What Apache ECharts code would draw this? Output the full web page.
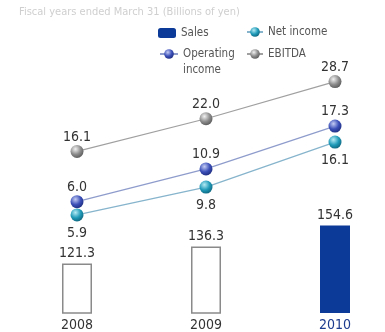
<!DOCTYPE html>
<html>
<head>
<meta charset="utf-8">
<script src="https://cdn.jsdelivr.net/npm/echarts@6/dist/echarts.min.js"></script>
<style>
  html, body { margin: 0; padding: 0; background: #fff; }
  #chart { width: 385px; height: 332px; }
</style>
</head>
<body>
<div id="chart"></div>
<script>
// Fiscal years and results (billions of yen)
const years = ['2008', '2009', '2010'];
const sales = [121.3, 136.3, 154.6];
const operatingIncome = [6.0, 10.9, 17.3];
const netIncome = [5.9, 9.8, 16.1];
const ebitda = [16.1, 22.0, 28.7];

const FONT = '"DejaVu Sans Condensed", "Liberation Sans Narrow", sans-serif';

// Shaded ball used as the point marker
function sphere(base, light, dark) {
  return {
    type: 'radial', x: 0.38, y: 0.32, r: 0.75,
    colorStops: [
      { offset: 0, color: light },
      { offset: 0.55, color: base },
      { offset: 1, color: dark }
    ]
  };
}

const opFill = sphere('#3b4fb8', '#c4ccf4', '#1c2a7a');
const netFill = sphere('#1f9ab8', '#b4eaf4', '#0e6078');
const ebFill = sphere('#8c8c8c', '#f2f2f2', '#555555');

const fmt = p => p.value.toFixed(1);
const valueLabel = { show: true, formatter: fmt, fontFamily: FONT, fontSize: 14, color: '#333' };
const legendText = { fontFamily: FONT, fontSize: 11.5, color: '#555' };

const chart = echarts.init(document.getElementById('chart'));
chart.setOption({
  animation: false,
  backgroundColor: '#fff',
  title: {
    text: 'Fiscal years ended March 31 (Billions of yen)',
    left: 14, top: 2,
    textStyle: { fontFamily: FONT, fontSize: 11, fontWeight: 'normal', color: '#cfcfcf' }
  },
  legend: [
    { data: ['Sales'], left: 158, top: 27, padding: 0, itemWidth: 18, itemHeight: 10,
      textStyle: legendText },
    { data: ['Net income'], left: 246, top: 26, padding: 0, itemWidth: 16, itemHeight: 12,
      textStyle: legendText },
    // blank first line keeps the marker level with "Operating"
    { data: ['Operating income'], left: 159, top: 30, padding: 0, itemWidth: 18, itemHeight: 12,
      formatter: ' \nOperating\nincome',
      textStyle: Object.assign({ lineHeight: 16 }, legendText) },
    { data: ['EBITDA'], left: 246, top: 48, padding: 0, itemWidth: 16, itemHeight: 12,
      textStyle: legendText }
  ],
  // the plot band runs a little past the right edge so the three slots are evenly spaced
  grid: { left: 12.5, right: -14.5, top: 20, bottom: 19, outerBoundsMode: 'none', containLabel: false },
  xAxis: {
    type: 'category', data: years, boundaryGap: true,
    axisLine: { show: false }, axisTick: { show: false }, splitLine: { show: false },
    axisLabel: {
      margin: 5, fontFamily: FONT, fontSize: 14,
      color: (v) => v === '2010' ? '#1c3a8e' : '#333'
    }
  },
  yAxis: [
    { type: 'value', show: false, min: 78.1, max: 334.4, splitLine: { show: false } },
    { type: 'value', show: false, min: -10.64, max: 33.16, splitLine: { show: false } },
    { type: 'value', show: false, min: -7.84, max: 33.2, splitLine: { show: false } },
    { type: 'value', show: false, min: -13.07, max: 39.82, splitLine: { show: false } }
  ],
  series: [
    {
      name: 'Sales', type: 'bar', yAxisIndex: 0, barWidth: 30,
      itemStyle: { color: '#0c3a98' },
      data: sales.map((v, i) => i < 2
        ? { value: v, itemStyle: { color: '#fff', borderColor: '#8a8a8a', borderWidth: 1.5 } }
        : { value: v }),
      label: Object.assign({ position: 'top', distance: 3 }, valueLabel)
    },
    {
      name: 'Operating income', type: 'line', yAxisIndex: 1, clip: false,
      symbol: 'circle', symbolSize: 13,
      lineStyle: { color: '#8e9ccc', width: 1.2 },
      itemStyle: { color: opFill },
      label: Object.assign({ position: 'top', distance: 1 }, valueLabel),
      data: operatingIncome, z: 3
    },
    {
      name: 'Net income', type: 'line', yAxisIndex: 2, clip: false,
      symbol: 'circle', symbolSize: 13,
      lineStyle: { color: '#86b4cc', width: 1.2 },
      itemStyle: { color: netFill },
      label: Object.assign({ position: 'bottom', distance: 5 }, valueLabel),
      data: netIncome, z: 3
    },
    {
      name: 'EBITDA', type: 'line', yAxisIndex: 3, clip: false,
      symbol: 'circle', symbolSize: 13,
      lineStyle: { color: '#a0a0a0', width: 1.2 },
      itemStyle: { color: ebFill },
      label: Object.assign({ position: 'top', distance: 1 }, valueLabel),
      data: ebitda, z: 3
    }
  ]
});
</script>
</body>
</html>
